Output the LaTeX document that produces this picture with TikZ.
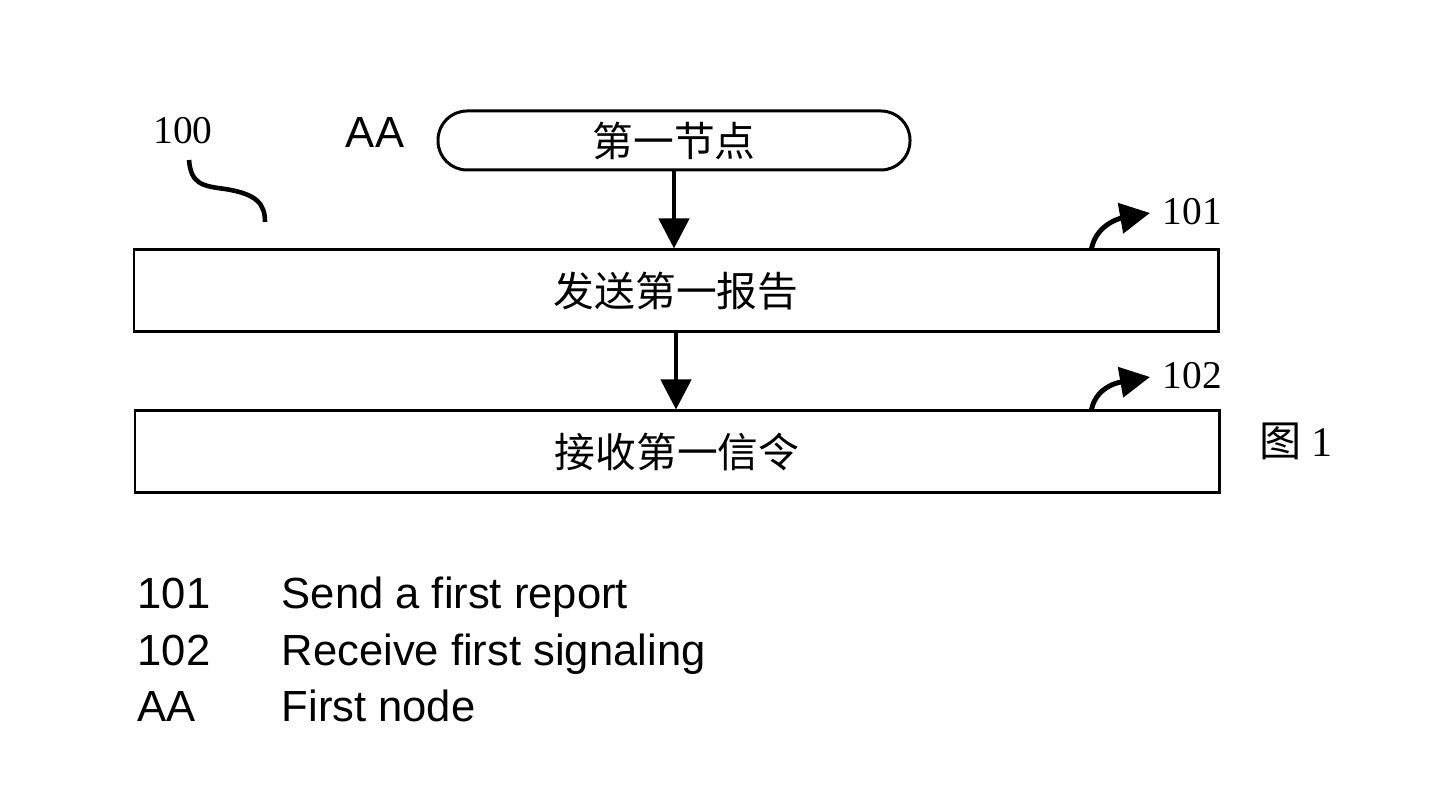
\documentclass[tikz,border=0pt]{standalone}
\usepackage{fontspec}
\setmainfont{Liberation Serif}
\setsansfont{Liberation Sans}
\newfontfamily\cjk{Noto Sans CJK SC}
\usetikzlibrary{arrows.meta, calc}
\tikzset{
    stepbox/.style={draw, line width=0.85pt, minimum width=10.84cm,
        minimum height=0.82cm, inner sep=0pt,
        font=\cjk\fontsize{11.6}{14}\selectfont},
    startbox/.style={draw, line width=0.85pt, rounded corners=0.29cm,
        minimum width=4.72cm, minimum height=0.59cm, inner sep=0pt,
        font=\cjk\fontsize{11.6}{14}\selectfont},
    flowarrow/.style={line width=1.3pt, -{Triangle[length=0.30cm, width=0.30cm]}},
    curlarrow/.style={line width=1.4pt, -{Triangle[length=0.30cm, width=0.30cm]}},
    reflabel/.style={inner sep=0pt, font=\fontsize{11.2}{13}\selectfont},
    keytext/.style={inner sep=0pt, anchor=base west, font=\sffamily\fontsize{12.4}{14}\selectfont}
}

\begin{document}
\begin{tikzpicture}
    \useasboundingbox (0, 0) rectangle (14.4, -7.95);
    % Flow
    \node[startbox] (FirstNode) at (6.74, -1.405) {第一节点};
    \node[stepbox] (SendBox) at (6.76, -2.91) {发送第一报告};
    \node[stepbox] (ReceiveBox) at (6.77, -4.52) {接收第一信令};
    \draw[flowarrow] (FirstNode.south) -- (FirstNode.south |- SendBox.north);
    \draw[flowarrow] (SendBox.south) -- (SendBox.south |- ReceiveBox.north);
    % Reference labels
    \node[reflabel] (Label100) at (1.83, -1.31) {100};
    \node[inner sep=0pt, font=\sffamily\fontsize{12.4}{14}\selectfont] (LabelAA) at (3.75, -1.33) {AA};
    \node[reflabel, anchor=west] (Label101) at (11.62, -2.12) {101};
    \node[reflabel, anchor=west] (Label102) at (11.62, -3.76) {102};
    \node[inner sep=0pt, font=\fontsize{12}{14}\selectfont] (FigLabel) at (12.96, -4.41) {{\cjk 图} 1};
    \draw[line width=1.3pt] (1.89, -1.60)
        .. controls (1.91, -1.84) and (2.02, -1.86) .. (2.25, -1.89)
        .. controls (2.57, -1.94) and (2.65, -2.04) .. (2.65, -2.22);
    \draw[curlarrow] ([xshift=-1.28cm]SendBox.north east)
        to[out=78, in=190] ([xshift=-0.12cm, yshift=-0.01cm]Label101.west);
    \draw[curlarrow] ([xshift=-1.29cm]ReceiveBox.north east)
        to[out=78, in=190] ([xshift=-0.12cm, yshift=-0.01cm]Label102.west);
    % Legend
    \node[keytext] (Key101) at (1.37, -6.09) {101};
    \node[keytext] (Desc101) at (2.81, -6.09) {Send a first report};
    \node[keytext] (Key102) at (1.37, -6.66) {102};
    \node[keytext] (Desc102) at (2.81, -6.66) {Receive first signaling};
    \node[keytext] (KeyAA) at (1.37, -7.22) {AA};
    \node[keytext] (DescAA) at (2.81, -7.22) {First node};
\end{tikzpicture}
\end{document}
